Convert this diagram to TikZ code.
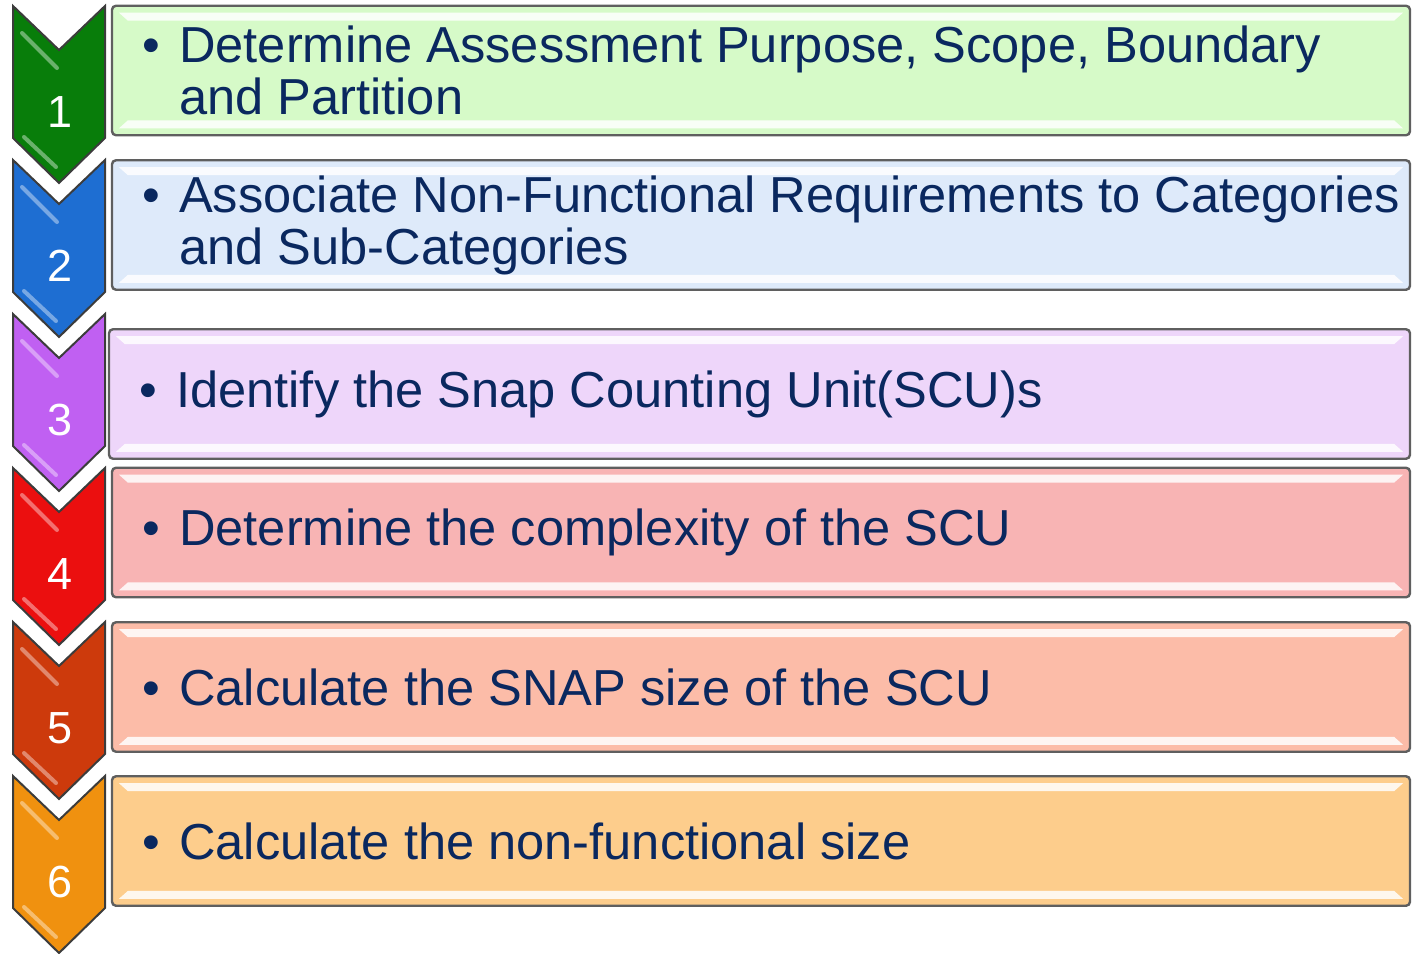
\documentclass[tikz,border=0pt]{standalone}
\usepackage{fontspec}
\setmainfont{Liberation Sans}

\definecolor{navytext}{RGB}{10,40,95}
\definecolor{boxedge}{RGB}{95,95,95}
\definecolor{chevedge}{RGB}{60,60,60}
% arrow colours
\definecolor{chevgreen}{RGB}{8,125,10}
\definecolor{chevblue}{RGB}{30,110,210}
\definecolor{chevpurple}{RGB}{192,96,242}
\definecolor{chevred}{RGB}{235,15,15}
\definecolor{chevrust}{RGB}{205,58,12}
\definecolor{chevorange}{RGB}{240,145,15}
% panel colours
\definecolor{boxgreen}{RGB}{214,250,200}
\definecolor{boxblue}{RGB}{222,234,250}
\definecolor{boxpurple}{RGB}{238,214,250}
\definecolor{boxred}{RGB}{248,180,180}
\definecolor{boxrust}{RGB}{252,188,168}
\definecolor{boxorange}{RGB}{253,205,140}

\newcommand{\bul}{\makebox[18.5pt][l]{\textbullet}}

\begin{document}
\begin{tikzpicture}[
  x=0.5pt, y=-0.5pt,
  chevron/.style={draw=chevedge, line width=1pt, line join=miter},
  shine/.style={draw=white, opacity=0.4, line width=2pt, line cap=round},
  num/.style={text=white, inner sep=0pt, font=\fontsize{22.5}{22.5}\selectfont},
  stepbox/.style={draw=boxedge, line width=1.2pt, rounded corners=2pt, minimum width=649pt, minimum height=64.75pt, inner sep=0pt},
  steptext/.style={anchor=west, align=left, inner sep=0pt, text=navytext, font=\fontsize{25.3}{26}\selectfont},
  gloss/.style={fill=white, opacity=0.85}
]
  \useasboundingbox (0,0) rectangle (1412,953);

  % Numbered arrows down the left
  \foreach \n/\c in {1/chevgreen, 2/chevblue, 3/chevpurple, 4/chevred, 5/chevrust, 6/chevorange}{
    \pgfmathsetmacro\t{6+154*(\n-1)}
    \draw[chevron, fill=\c] (13,\t) -- (59,\t+44) -- (105,\t) -- (105,\t+132) -- (59,\t+177) -- (13,\t+132) -- cycle;
    \draw[shine] (22,\t+27) -- (57,\t+62);
    \draw[shine] (24,\t+131) -- (56,\t+161);
    \node[num] (n\n) at (60,\t+106) {\n};
  }

  % Step panels
  \node[stepbox, fill=boxgreen] (b1) at (761,70.5) {};
  \node[stepbox, fill=boxblue] (b2) at (761,225) {};
  \node[stepbox, fill=boxpurple, minimum width=650.5pt] (b3) at (759.5,394) {};
  \node[stepbox, fill=boxred] (b4) at (761,532.5) {};
  \node[stepbox, fill=boxrust] (b5) at (761,687) {};
  \node[stepbox, fill=boxorange] (b6) at (761,841) {};

  % bevel highlights
  \foreach \i in {1,...,6}{
    \fill[gloss] ([shift={(8,8)}]b\i.north west) -- ([shift={(-8,8)}]b\i.north east)
      -- ([shift={(-17,16)}]b\i.north east) -- ([shift={(17,16)}]b\i.north west) -- cycle;
    \fill[gloss] ([shift={(8,-8)}]b\i.south west) -- ([shift={(-8,-8)}]b\i.south east)
      -- ([shift={(-17,-16)}]b\i.south east) -- ([shift={(17,-16)}]b\i.south west) -- cycle;
  }

  \node[steptext] (t1) at ([xshift=15.5pt]b1.west) {\bul Determine Assessment Purpose, Scope, Boundary\\\hspace*{18.5pt}and Partition};
  \node[steptext] (t2) at ([xshift=15.5pt]b2.west) {\bul Associate Non-Functional Requirements to Categories\\\hspace*{18.5pt}and Sub-Categories};
  \node[steptext] (t3) at ([xshift=15.5pt]b3.west) {\bul Identify the Snap Counting Unit(SCU)s};
  \node[steptext] (t4) at ([xshift=15.5pt]b4.west) {\bul Determine the complexity of the SCU};
  \node[steptext] (t5) at ([xshift=15.5pt]b5.west) {\bul Calculate the SNAP size of the SCU};
  \node[steptext] (t6) at ([xshift=15.5pt]b6.west) {\bul Calculate the non-functional size};
\end{tikzpicture}
\end{document}
